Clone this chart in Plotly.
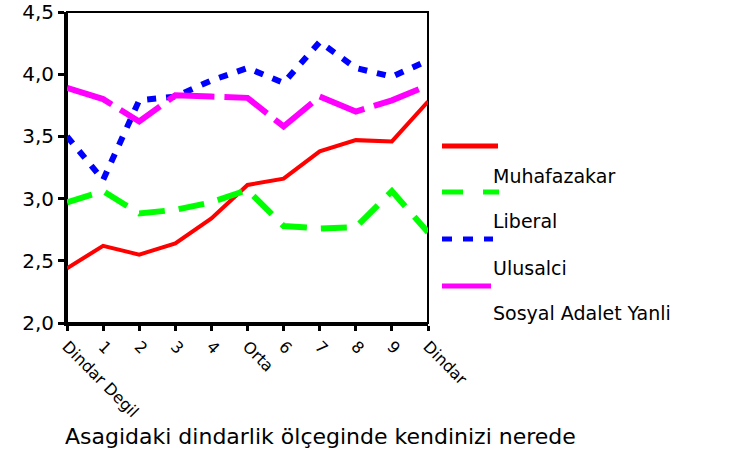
import plotly.graph_objects as go

categories = ["Dindar Degil", "1", "2", "3", "4", "Orta", "6", "7", "8", "9", "Dindar"]
muhafazakar = [2.44, 2.62, 2.55, 2.64, 2.84, 3.11, 3.16, 3.38, 3.47, 3.46, 3.78]
liberal = [2.97, 3.06, 2.88, 2.91, 2.97, 3.07, 2.78, 2.76, 2.77, 3.06, 2.73]
ulusalci = [3.50, 3.15, 3.79, 3.82, 3.95, 4.05, 3.93, 4.26, 4.05, 3.98, 4.11]
sosyal = [3.89, 3.80, 3.62, 3.83, 3.82, 3.81, 3.58, 3.82, 3.70, 3.79, 3.91]
series_names = ["Muhafazakar", "Liberal", "Ulusalci", "Sosyal Adalet Yanli"]
y_ticks = [2.0, 2.5, 3.0, 3.5, 4.0, 4.5]
y_tick_labels = ["2,0", "2,5", "3,0", "3,5", "4,0", "4,5"]
x_title = "Asagidaki dindarlik ölçeginde kendinizi nerede"

FONT = "DejaVu Sans"
colors = ["#ff0000", "#00ff00", "#0000ff", "#ff00ff"]
widths = [4, 6, 6, 6]
dashes = ["solid", "26px,14px", "9px,10px", "48px,10px"]
values = [muhafazakar, liberal, ulusalci, sosyal]

fig = go.Figure()
for name, vals, c, w, d in zip(series_names, values, colors, widths, dashes):
    fig.add_trace(go.Scatter(x=categories, y=vals, mode="lines", name=name,
                             line=dict(color=c, width=w, dash=d), showlegend=False))

# frame
fig.add_shape(type="rect", xref="paper", yref="paper", x0=0, x1=1, y0=0, y1=1,
              line=dict(color="black", width=2), layer="below")

# manual legend (SPSS style: sample above label)
W = 361.0
H = 311.0
def px(x):
    return (x - 67) / W
def py(y):
    return (323 - y) / H

leg_line_y = [146, 192, 239, 286]
leg_line_x1 = [498, 499, 493, 491]
leg_dash = ["solid", "21px,20px", "10px,11px", "solid"]
leg_label_y = [176, 221, 268, 313]
for i, name in enumerate(series_names):
    fig.add_shape(type="line", xref="paper", yref="paper",
                  x0=px(442), x1=px(leg_line_x1[i]), y0=py(leg_line_y[i]), y1=py(leg_line_y[i]),
                  line=dict(color=colors[i], width=5, dash=leg_dash[i]))
    fig.add_annotation(xref="paper", yref="paper", x=px(491), y=py(leg_label_y[i]),
                       text=name, showarrow=False, xanchor="left", yanchor="middle",
                       font=dict(family=FONT, size=19, color="black"))

fig.add_annotation(xref="paper", yref="paper", x=px(63), y=py(436), text=x_title,
                   showarrow=False, xanchor="left", yanchor="middle",
                   font=dict(family=FONT, size=22, color="black"))

fig.update_xaxes(type="category", categoryorder="array", categoryarray=categories,
                 range=[0, 10], showgrid=False, zeroline=False, automargin=False,
                 showline=True, linecolor="black", linewidth=3,
                 ticks="outside", ticklen=5, tickwidth=3, tickcolor="black",
                 tickangle=45, tickfont=dict(family=FONT, size=16, color="black"))
fig.update_yaxes(range=[2.0, 4.5], tickvals=y_ticks, ticktext=y_tick_labels,
                 showgrid=False, zeroline=False, automargin=False,
                 showline=True, linecolor="black", linewidth=3,
                 ticks="outside", ticklen=6, tickwidth=3, tickcolor="black",
                 ticklabeloverflow="allow",
                 tickfont=dict(family=FONT, size=20, color="black"))
fig.update_layout(width=742, height=452,
                  margin=dict(l=67, r=314, t=12, b=129, autoexpand=False),
                  plot_bgcolor="white", paper_bgcolor="white", showlegend=False)

# remove the browser's default 8px body margin so the figure fills the window
fig.write_html("out.html", config={"displayModeBar": False},
               post_script="document.body.style.margin='0';")
